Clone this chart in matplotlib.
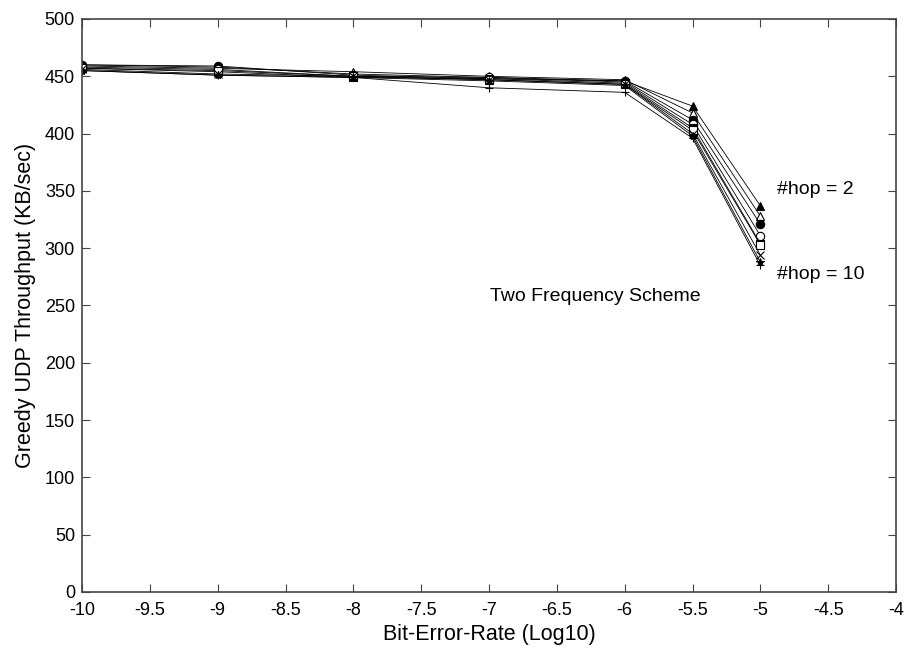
import matplotlib
matplotlib.use("Agg")
import matplotlib.pyplot as plt

plt.rcParams['font.family'] = ['Liberation Sans', 'DejaVu Sans']

# Bit-error-rate (log10)
ber = [-10, -9, -8, -7, -6, -5.5, -5]

# throughput per hop count (KB/sec)
hop2 = [460, 458, 452, 449, 446, 424, 337]
hop3 = [459, 457, 454, 450, 447, 418, 328]
hop4 = [460, 459, 451, 448, 446, 412, 321]
hop5 = [458, 456, 450, 449, 445, 408, 311]
hop6 = [457, 454, 449, 448, 444, 405, 304]
hop7 = [457, 455, 450, 447, 443, 403, 303]
hop8 = [456, 452, 450, 447, 443, 400, 294]
hop9 = [455, 451, 449, 446, 442, 398, 288]
hop10 = [455, 451, 449, 440, 436, 396, 285]

series = [hop2, hop3, hop4, hop5, hop6, hop7, hop8, hop9, hop10]
# gnuplot-like point types
markers = [('^', 'k'), ('^', 'w'), ('o', 'k'), ('o', 'w'), ('s', 'k'),
           ('s', 'w'), ('x', 'k'), ('*', 'k'), ('+', 'k')]

xticks = [-10, -9.5, -9, -8.5, -8, -7.5, -7, -6.5, -6, -5.5, -5, -4.5, -4]
yticks = list(range(0, 501, 50))

fig = plt.figure(figsize=(9.07, 6.49), dpi=100)
ax = fig.add_axes([82 / 907, 1 - 592 / 649, (896 - 82) / 907, (592 - 19) / 649])

for ys, (m, fc) in zip(series, markers):
    ax.plot(ber, ys, color='black', linewidth=0.6, marker=m,
            markerfacecolor=fc, markeredgecolor='black', markersize=6,
            markeredgewidth=0.8)

ax.set_xlim(-10, -4)
ax.set_ylim(0, 500)
ax.set_xticks(xticks)
ax.set_xticklabels([f"{t:g}" for t in xticks])
ax.set_yticks(yticks)
ax.tick_params(direction='in', top=True, right=True, length=6,
               labelsize=13, color='#444444')
ax.tick_params(axis='x', pad=7)
ax.tick_params(axis='y', pad=5)
for s in ax.spines.values():
    s.set_color('#444444')
    s.set_linewidth(1.2)

ax.set_xlabel('Bit-Error-Rate (Log10)', fontsize=15.5, labelpad=4)
ax.set_ylabel('Greedy UDP Throughput (KB/sec)', fontsize=15.5, labelpad=6)

ax.text(-4.88, 351, '#hop = 2', fontsize=14, va='center', ha='left')
ax.text(-4.88, 277, '#hop = 10', fontsize=14, va='center', ha='left')
ax.text(-6.22, 258, 'Two Frequency Scheme', fontsize=14, va='center', ha='center')

fig.savefig('out.png', dpi=100)
